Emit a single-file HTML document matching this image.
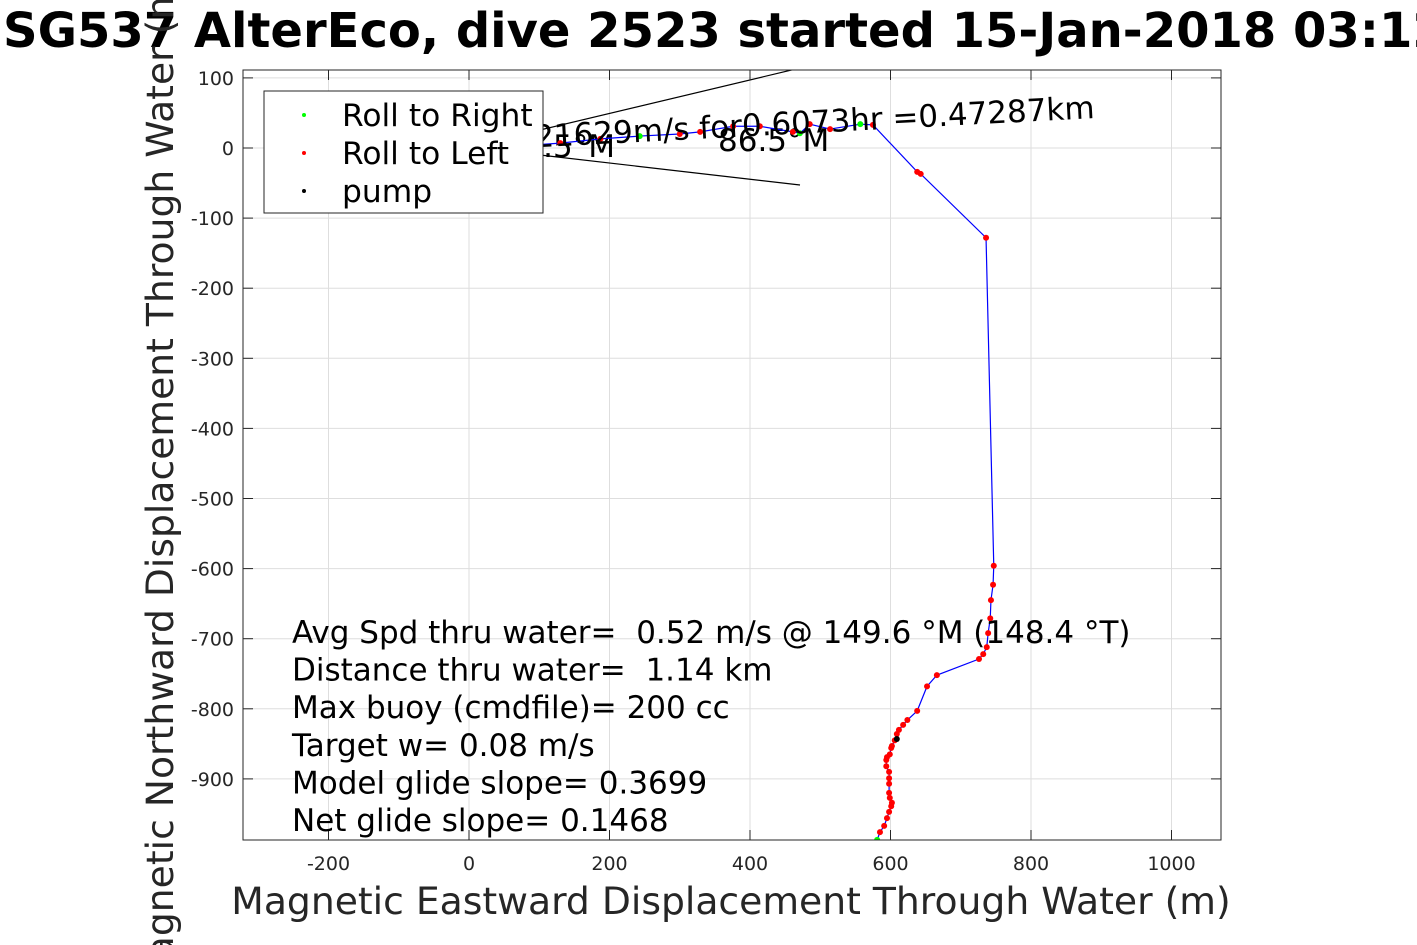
<!DOCTYPE html>
<html><head><meta charset="utf-8"><style>
html,body{margin:0;padding:0;background:#fff;width:1417px;height:945px;overflow:hidden}
svg{display:block;font-family:"DejaVu Sans","Liberation Sans",sans-serif}
text{white-space:pre}
</style></head><body>
<svg id="chart" width="1417" height="945" viewBox="0 0 1417 945">
<g id="grid"></g>
<g id="plot"></g>
<g id="axes"></g>
</svg>
<script>
const xTicks=[-200,0,200,400,600,800,1000];
const yTicks=[100,0,-100,-200,-300,-400,-500,-600,-700,-800,-900];
const trackX=[581,585,591,595,598,601,602,599,598,598,598,598,594,594,595,599,601,602,606,609,612,618,624,638,652,666,726,732,737,739,742,743,746,747,736,643,638,575,557,514,485,471,461,414,376,329,300,243,187,130,73,16];
const trackY=[-987,-976,-967,-956,-947,-939,-934,-927,-920,-907,-899,-890,-882,-873,-869,-865,-856,-853,-845,-836,-830,-823,-816,-803,-768,-752,-729,-722,-712,-692,-671,-645,-623,-596,-128,-37,-34,33,34,27,34,21,23,31,31,23,20,17,13,7,3,0];
const greenIdx=[0,38,41,47];
const pumpX=[609];const pumpY=[-843];
const infoLines=["Avg Spd thru water=  0.52 m/s @ 149.6 °M (148.4 °T)","Distance thru water=  1.14 km","Max buoy (cmdfile)= 200 cc","Target w= 0.08 m/s","Model glide slope= 0.3699","Net glide slope= 0.1468"];

const L=243,R=1221,T=70,B=840;
const X=v=>469+v*0.7025, Y=v=>148-v*0.701;
const NS="http://www.w3.org/2000/svg";
function mk(tag,parent,attrs){const e=document.createElementNS(NS,tag);for(const k in attrs)e.setAttribute(k,attrs[k]);parent.appendChild(e);return e;}
const svg=document.getElementById('chart'),grid=document.getElementById('grid'),plot=document.getElementById('plot'),axes=document.getElementById('axes');

xTicks.forEach(v=>{
 const g=mk('line',grid,{x1:X(v),x2:X(v),y1:T,y2:B,stroke:'#dedede','stroke-width':1});
 
 
 mk('line',axes,{x1:X(v),x2:X(v),y1:B,y2:B-10,stroke:'#262626'});
 mk('line',axes,{x1:X(v),x2:X(v),y1:T,y2:T+10,stroke:'#262626'});
 const t=mk('text',axes,{x:X(v),y:870,'text-anchor':'middle','font-size':19,fill:'#262626'});
 t.textContent=v;
 
 
});
yTicks.forEach(v=>{
 const g=mk('line',grid,{x1:L,x2:R,y1:Y(v),y2:Y(v),stroke:'#dedede','stroke-width':1});
 
 
 mk('line',axes,{x1:L,x2:L+10,y1:Y(v),y2:Y(v),stroke:'#262626'});
 mk('line',axes,{x1:R,x2:R-10,y1:Y(v),y2:Y(v),stroke:'#262626'});
 const t=mk('text',axes,{x:234,y:Y(v)+7,'text-anchor':'end','font-size':19,fill:'#262626'});
 t.textContent=v;
 
 
});
const frame=mk('rect',axes,{x:L,y:T,width:R-L,height:B-T,fill:'none',stroke:'#262626','stroke-width':1});



const defs=mk('defs',svg,{});const cp=mk('clipPath',defs,{id:'clip'});mk('rect',cp,{x:L,y:T,width:R-L,height:B-T});
plot.setAttribute('clip-path','url(#clip)');

const l1=mk('line',plot,{x1:540,y1:130,x2:800,y2:68,stroke:'#000','stroke-width':1.2});


const l2=mk('line',plot,{x1:540,y1:155,x2:800,y2:185,stroke:'#000','stroke-width':1.2});


const a1=mk('text',plot,{x:615,y:157,'text-anchor':'end','font-size':31,fill:'#000'});a1.textContent='-63.5°M';


const a2=mk('text',plot,{x:718,y:151,'font-size':31,fill:'#000'});a2.textContent='86.5°M';



const pts=trackX.map((v,i)=>X(v)+','+Y(trackY[i])).join(' ');
const pl=mk('polyline',plot,{points:pts,fill:'none',stroke:'#0000ff','stroke-width':1.2});


trackX.forEach((v,i)=>{
 const c=mk('circle',plot,{cx:X(v),cy:Y(trackY[i]),r:3,fill:greenIdx.includes(i)?'#00ff00':'#ff0000'});
 
 
});
pumpX.forEach((v,i)=>{
 const c=mk('circle',plot,{cx:X(v),cy:Y(pumpY[i]),r:3,fill:'#000'});
 
 
});
const sp=mk('text',plot,{x:1095,y:118,'text-anchor':'end','font-size':31,fill:'#000',transform:'rotate(-3 1095 118)'});
sp.textContent='=0.21629m/s for0.6073hr =0.47287km';



infoLines.forEach((s,i)=>{
 const t=mk('text',svg,{x:292,y:643+i*37.6,'font-size':31,fill:'#000'});
 t.textContent=s;
 
 
});

const lg=mk('g',svg,{});


mk('rect',lg,{x:264,y:91,width:279,height:122,fill:'#fff',stroke:'#262626','stroke-width':1});
[['Roll to Right','#00ff00'],['Roll to Left','#ff0000'],['pump','#000']].forEach((e,i)=>{
 const g=mk('g',lg,{});
 
 
 mk('circle',g,{cx:304,cy:115+i*38,r:2,fill:e[1]});
 const t=mk('text',g,{x:342,y:126+i*38,'font-size':31.3,fill:'#000'});t.textContent=e[0];
});

const xl=mk('text',svg,{x:731,y:914,'text-anchor':'middle','font-size':37.7,fill:'#262626'});
xl.textContent='Magnetic Eastward Displacement Through Water (m)';


const ti=mk('text',svg,{x:3,y:47,'font-size':48,'font-weight':'bold',fill:'#000'});
ti.textContent='SG537 AlterEco, dive 2523 started 15-Jan-2018 03:12:59';


const yl=mk('text',svg,{x:0,y:0,'text-anchor':'middle','font-size':37.7,fill:'#262626',transform:'translate(173 480) rotate(-90)'});
yl.textContent='Magnetic Northward Displacement Through Water (m)';


</script>
</body></html>
